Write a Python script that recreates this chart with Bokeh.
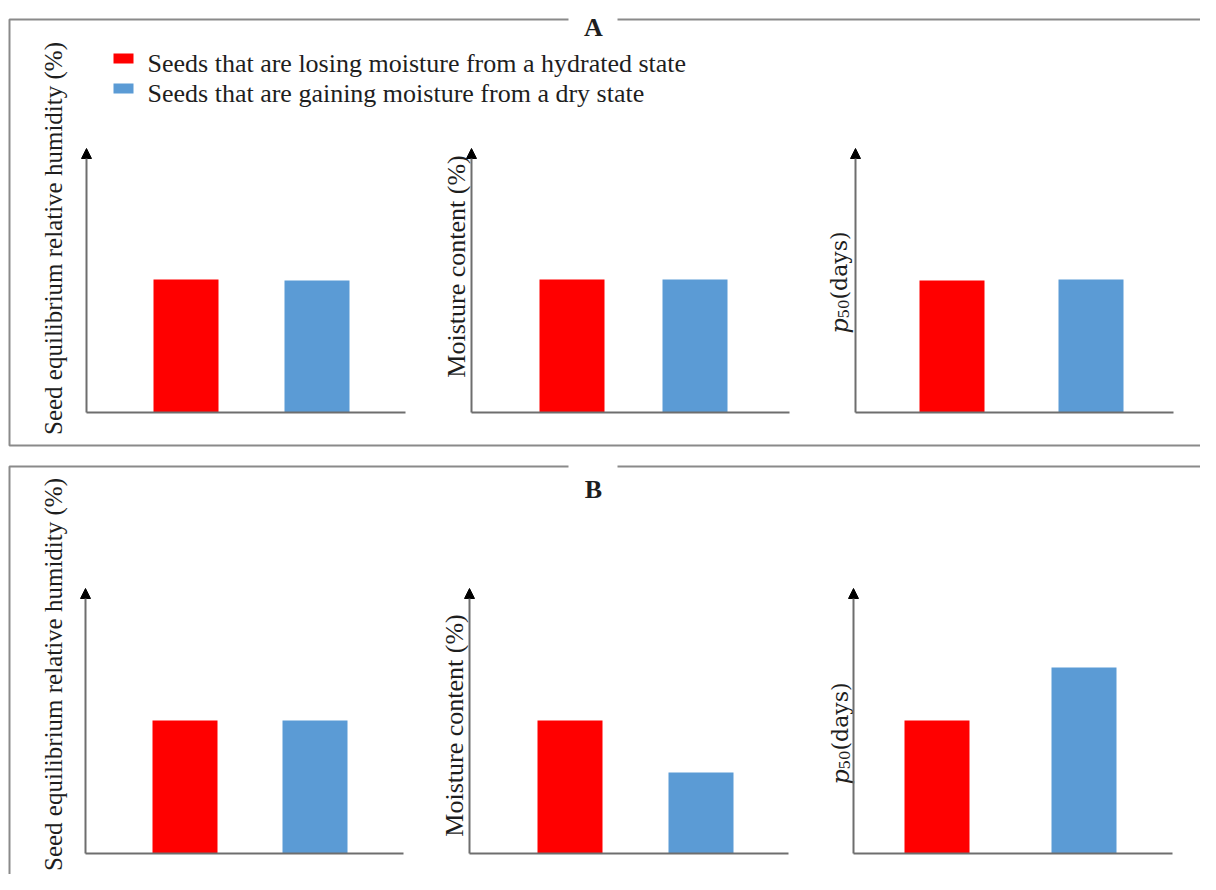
import math
from bokeh.plotting import figure
from bokeh.models import Range1d, Arrow, NormalHead
from bokeh.core.properties import value
from bokeh.embed import file_html
from bokeh.resources import INLINE

# ---------------- data ----------------
series_names = [
    "Seeds that are losing moisture from a hydrated state",
    "Seeds that are gaining moisture from a dry state",
]
panel_titles = ["A", "B"]
y_titles = ["Seed equilibrium relative humidity (%)", "Moisture content (%)", "p50(days)"]
losing_A = [5.04, 5.04, 5.00]
gaining_A = [5.00, 5.04, 5.04]
losing_B = [5.02, 5.02, 5.02]
gaining_B = [5.02, 3.06, 7.02]
Y_MAX = 10.0

# ---------------- style ----------------
RED = "#FF0000"
BLUE = "#5B9BD5"
AXIS_COL = "#6e6e6e"
BOX_COL = "#8a8a8a"
TXT = "#1e1e1e"
SERIF = "Liberation Serif"

W, H = 1200, 874


def py(y):
    # picture-pixel y (from top) -> data y
    return H - y


p = figure(width=W, height=H, x_range=Range1d(0, W), y_range=Range1d(0, H),
           output_backend="svg", toolbar_location=None, tools="",
           x_axis_location=None, y_axis_location=None, min_border=0)
p.grid.visible = False
p.outline_line_color = None
p.background_fill_color = "white"
p.border_fill_color = "white"

# ---------------- panel layout (picture pixels) ----------------
rows = [
    dict(box_top=19, box_bottom=445, title_y=27, base=412, tip=148,
         axis_x=[86, 471, 855], axis_end=[405, 789, 1173],
         centers=[(185.5, 316.5), (571.5, 694.5), (951.5, 1090.5)],
         label_x=[53, 456, 839], label_cy=[238, 266, 283],
         losing=losing_A, gaining=gaining_A),
    dict(box_top=466, box_bottom=905, title_y=489, base=853, tip=588,
         axis_x=[85, 469, 853], axis_end=[403, 788, 1172],
         centers=[(184.5, 314.5), (569.5, 700.5), (936.5, 1083.5)],
         label_x=[53, 454, 840], label_cy=[674, 725, 734],
         losing=losing_B, gaining=gaining_B),
]
BAR_W = 65

extra_x, extra_y = {}, {}
for r, row in enumerate(rows):
    yb, yt = py(row["base"]), py(row["tip"])
    sc = (yt - yb) / Y_MAX
    for c in range(3):
        c1, c2 = row["centers"][c]
        dx = c2 - c1
        extra_x[f"x{r}{c}"] = Range1d(1 + (0 - c1) / dx, 1 + (W - c1) / dx)
        extra_y[f"y{r}{c}"] = Range1d((0 - yb) / sc, (H - yb) / sc)
p.extra_x_ranges = extra_x
p.extra_y_ranges = extra_y

for r, row in enumerate(rows):
    # panel box with gap for the title
    top, bot = py(row["box_top"]), py(row["box_bottom"])
    p.line(x=[568, 9, 9, 1225, 1225, 617], y=[top, top, bot, bot, top, top],
           line_color=BOX_COL, line_width=2)
    p.text(x=[593], y=[py(row["title_y"])], text=[panel_titles[r]],
           text_font=value(SERIF), text_font_style="bold", text_font_size="26px",
           text_align="center", text_baseline="alphabetic", text_color=TXT)

    for c in range(3):
        xn, yn = f"x{r}{c}", f"y{r}{c}"
        c1, c2 = row["centers"][c]
        # bars
        p.vbar(x=[1, 2], top=[row["losing"][c], row["gaining"][c]], bottom=0,
               width=BAR_W / (c2 - c1), fill_color=[RED, BLUE], line_color=None,
               x_range_name=xn, y_range_name=yn)
        # x axis line
        p.segment(x0=[row["axis_x"][c]], y0=[0], x1=[row["axis_end"][c]], y1=[0],
                  y_range_name=yn, line_color=AXIS_COL, line_width=2)
        # y axis arrow
        p.add_layout(Arrow(x_start=row["axis_x"][c], y_start=0, x_end=row["axis_x"][c], y_end=Y_MAX,
                           y_range_name=yn, line_color=AXIS_COL, line_width=2,
                           end=NormalHead(size=10, fill_color="black", line_color="black", line_width=1)))
        # y titles
        lx, lcy = row["label_x"][c], row["label_cy"][c]
        if c < 2:
            fs = "25px" if c == 0 else "26px"
            p.text(x=[lx], y=[py(lcy)], text=[y_titles[c]], angle=math.pi / 2,
                   text_font=value(SERIF), text_font_size=fs,
                   text_align="center", text_baseline="alphabetic", text_color=TXT)
        else:
            start = lcy + 50
            p.text(x=[lx], y=[py(start)], text=["p"], angle=math.pi / 2,
                   text_font=value("DejaVu Serif"), text_font_style="italic", text_font_size="24px",
                   text_align="left", text_baseline="alphabetic", text_color=TXT)
            p.text(x=[lx + 4], y=[py(start - 15)], text=["50"], angle=math.pi / 2,
                   text_font=value("DejaVu Serif"), text_font_size="15px",
                   text_align="left", text_baseline="alphabetic", text_color=TXT)
            p.text(x=[lx], y=[py(start - 34)], text=["(days)"], angle=math.pi / 2,
                   text_font=value("DejaVu Serif"), text_font_size="22px",
                   text_align="left", text_baseline="alphabetic", text_color=TXT)

# ---------------- legend ----------------
leg_y = [58, 88]
p.rect(x=[123, 123], y=[py(v) for v in leg_y], width=20, height=10,
       width_units="screen", height_units="screen",
       fill_color=[RED, BLUE], line_color=None)
p.text(x=[147, 147], y=[py(v + 5) for v in leg_y], text=series_names,
       text_font=value(SERIF), text_font_size="26px",
       text_align="left", text_baseline="alphabetic", text_color=TXT)

open("out.html", "w").write(file_html(p, INLINE))
